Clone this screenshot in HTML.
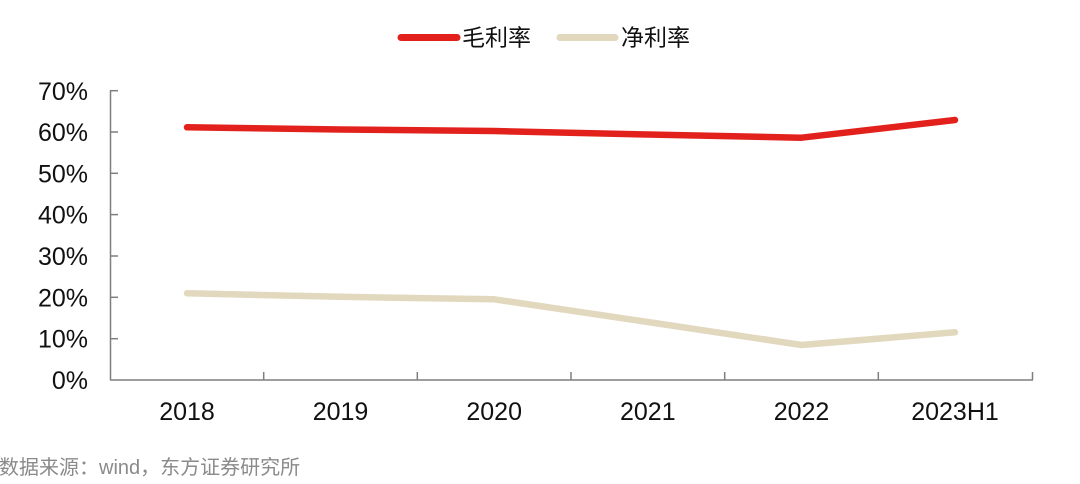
<!DOCTYPE html>
<html>
<head>
<meta charset="utf-8">
<style>
  html, body { margin: 0; padding: 0; background: #ffffff; }
  body { width: 1080px; height: 484px; overflow: hidden; }
  svg { display: block; }
  text { font-family: "Liberation Sans", "Noto Sans CJK SC", sans-serif; }
</style>
</head>
<body>
<svg width="1080" height="484" viewBox="0 0 1080 484" xmlns="http://www.w3.org/2000/svg">
  <rect width="1080" height="484" fill="#ffffff"/>

  <!-- Legend -->
  <line x1="401" y1="37.5" x2="457" y2="37.5" stroke="#e3211c" stroke-width="7" stroke-linecap="round"/>
  <text x="462" y="45.5" font-size="23" fill="#111">毛利率</text>
  <line x1="560" y1="37.5" x2="615" y2="37.5" stroke="#e2d8be" stroke-width="7" stroke-linecap="round"/>
  <text x="621" y="45.5" font-size="23" fill="#111">净利率</text>

  <!-- Y axis -->
  <g stroke="#7f7f7f" stroke-width="1.5" fill="none">
    <line x1="110.5" y1="90.5" x2="110.5" y2="380"/>
    <line x1="110" y1="90.7" x2="118" y2="90.7"/>
    <line x1="110" y1="132" x2="118" y2="132"/>
    <line x1="110" y1="173.3" x2="118" y2="173.3"/>
    <line x1="110" y1="214.6" x2="118" y2="214.6"/>
    <line x1="110" y1="256" x2="118" y2="256"/>
    <line x1="110" y1="297.3" x2="118" y2="297.3"/>
    <line x1="110" y1="338.7" x2="118" y2="338.7"/>
    <!-- X axis -->
    <line x1="110" y1="380" x2="1033" y2="380"/>
    <line x1="263.7" y1="372" x2="263.7" y2="380"/>
    <line x1="417.3" y1="372" x2="417.3" y2="380"/>
    <line x1="571" y1="372" x2="571" y2="380"/>
    <line x1="724.7" y1="372" x2="724.7" y2="380"/>
    <line x1="878.3" y1="372" x2="878.3" y2="380"/>
    <line x1="1032.5" y1="372" x2="1032.5" y2="380"/>
  </g>

  <!-- Y labels -->
  <g font-size="25" fill="#111" text-anchor="end">
    <text x="88" y="100">70%</text>
    <text x="88" y="141">60%</text>
    <text x="88" y="182.5">50%</text>
    <text x="88" y="223.5">40%</text>
    <text x="88" y="265">30%</text>
    <text x="88" y="306.5">20%</text>
    <text x="88" y="347.5">10%</text>
    <text x="88" y="389">0%</text>
  </g>

  <!-- X labels -->
  <g font-size="25" fill="#111" text-anchor="middle">
    <text x="187" y="420">2018</text>
    <text x="340.5" y="420">2019</text>
    <text x="494.2" y="420">2020</text>
    <text x="647.8" y="420">2021</text>
    <text x="801.5" y="420">2022</text>
    <text x="955" y="420">2023H1</text>
  </g>

  <!-- Series: 净利率 -->
  <polyline points="187,293.3 340.5,296.8 494.2,299.3 647.8,322 801.5,345 955,332.3"
            fill="none" stroke="#e2d8be" stroke-width="6.5" stroke-linecap="round" stroke-linejoin="round"/>
  <!-- Series: 毛利率 -->
  <polyline points="187,127.3 340.5,129.5 494.2,131 647.8,134.5 801.5,137.7 955,120"
            fill="none" stroke="#e3211c" stroke-width="6.5" stroke-linecap="round" stroke-linejoin="round"/>

  <!-- Source -->
  <text x="-1" y="474" font-size="20" fill="#8a8a8a">数据来源：wind，东方证券研究所</text>
</svg>
</body>
</html>
